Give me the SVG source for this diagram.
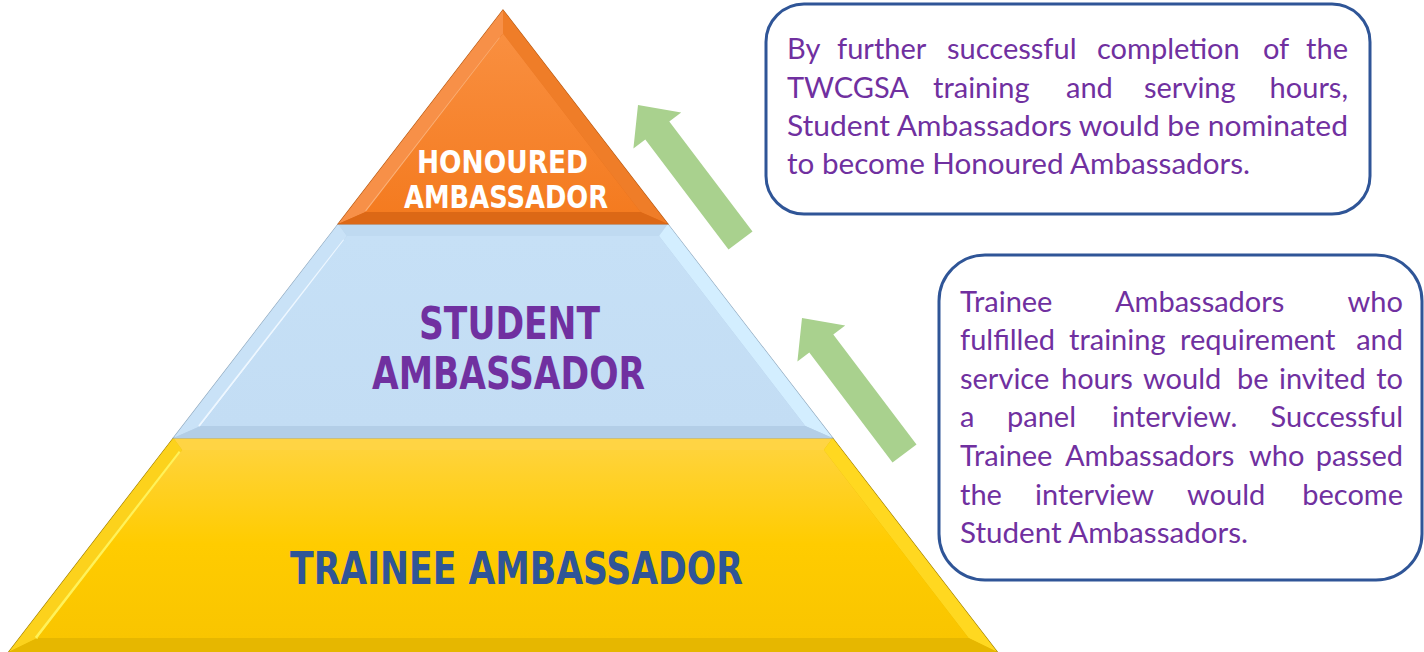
<svg xmlns="http://www.w3.org/2000/svg" width="1424" height="652" viewBox="0 0 1424 652">
<style>
.lbl{font-family:"DejaVu Sans Condensed","DejaVu Sans",sans-serif;font-weight:bold;}
.desc{font-family:Lato,"Open Sans",sans-serif;font-size:29px;fill:#7030A0;}
.box{fill:#FFFFFF;stroke:#2F5597;stroke-width:3;}
.arrow{fill:#A9D18E;}
.end{text-anchor:end;}
</style>
<defs>
<linearGradient id="gOr" x1="0" y1="0" x2="0" y2="1"><stop offset="0" stop-color="#F98F40"/><stop offset="1" stop-color="#F47B20"/></linearGradient>
<linearGradient id="gBl" x1="0" y1="0" x2="0" y2="1"><stop offset="0" stop-color="#C6E0F6"/><stop offset="1" stop-color="#C3DDF4"/></linearGradient>
<linearGradient id="gYe" x1="0" y1="0" x2="0" y2="1"><stop offset="0" stop-color="#FFD33A"/><stop offset="0.5" stop-color="#FFCC00"/><stop offset="1" stop-color="#F9C500"/></linearGradient>
</defs>

<g id="tier-trainee">
<polygon points="173.4,438 832.6,438 997.3,652 8.7,652" fill="#E8BB00" stroke="#9C7C00" stroke-width="1.2"/>
<polygon points="173.4,438 182.2,450 37.4,638 8.7,652" fill="#FCD21C"/>
<polygon points="173.4,438 832.6,438 823.8,450 182.2,450" fill="#FFD444"/>
<polygon points="832.6,438 997.3,652 968.6,638 823.8,450" fill="#FFD820"/>
<polygon points="8.7,652 37.4,638 968.6,638 997.3,652" fill="#E6B700"/>
<line x1="180" y1="452" x2="36" y2="638" stroke="#FFF25A" stroke-width="3"/>
<polygon points="182.2,450 823.8,450 968.6,638 37.4,638" fill="url(#gYe)"/>
<text class="lbl" x="290" y="584" font-size="45" fill="#2F5597" textLength="453" lengthAdjust="spacingAndGlyphs">TRAINEE AMBASSADOR</text>
</g>

<g id="tier-student">
<polygon points="338.2,224 667.8,224 832.6,438 173.4,438" fill="#B7D2EA" stroke="#8FA8BE" stroke-width="1.2"/>
<polygon points="338.2,224 347,236 200.7,426 173.4,438" fill="#C9E2F7"/>
<polygon points="338.2,224 667.8,224 659,236 347,236" fill="#BFDAF1"/>
<polygon points="667.8,224 832.6,438 805.3,426 659,236" fill="#D3EEFF"/>
<polygon points="173.4,438 200.7,426 805.3,426 832.6,438" fill="#B3CEE7"/>
<line x1="344" y1="240" x2="199" y2="426" stroke="#EEF7FF" stroke-width="2"/>
<polygon points="347,236 659,236 805.3,426 200.7,426" fill="url(#gBl)"/>
<text class="lbl" x="419" y="339" font-size="45" fill="#7030A0" textLength="181" lengthAdjust="spacingAndGlyphs">STUDENT</text>
<text class="lbl" x="372" y="389" font-size="45" fill="#7030A0" textLength="273" lengthAdjust="spacingAndGlyphs">AMBASSADOR</text>
</g>

<g id="tier-honoured">
<polygon points="503,10 667.8,224 338.2,224" fill="#E06C18" stroke="#B85B14" stroke-width="1.2"/>
<polygon points="503,10 503,33.4 365.5,212 338.2,224" fill="#F79048"/>
<polygon points="503,10 667.8,224 640.5,212 503,33.4" fill="#EF7D28"/>
<polygon points="338.2,224 365.5,212 640.5,212 667.8,224" fill="#DC6816"/>
<line x1="500" y1="38" x2="366" y2="211" stroke="#FBB27A" stroke-width="2"/>
<polygon points="503,33.4 640.5,212 365.5,212" fill="url(#gOr)"/>
<text class="lbl" x="417" y="173" font-size="32" fill="#FFFFFF" textLength="171" lengthAdjust="spacingAndGlyphs">HONOURED</text>
<text class="lbl" x="404" y="208" font-size="32" fill="#FFFFFF" textLength="204" lengthAdjust="spacingAndGlyphs">AMBASSADOR</text>
</g>

<g id="connectors">
<polygon class="arrow" points="638,105 681.2,112.4 669.3,121.5 752.5,231.5 728.5,249.5 645.3,139.6 633.4,148.6"/>
<polygon class="arrow" transform="translate(164,213)" points="638,105 681.2,112.4 669.3,121.5 752.5,231.5 728.5,249.5 645.3,139.6 633.4,148.6"/>
</g>

<g id="note-honoured">
<rect class="box" x="766" y="4" width="604" height="210" rx="38" ry="38"/>
<text class="desc" y="59"><tspan x="787">By</tspan><tspan x="837">further</tspan><tspan x="947">successful</tspan><tspan x="1097">completion</tspan><tspan x="1263">of</tspan></text>
<text class="desc end" x="1348" y="59">the</text>
<text class="desc" y="98"><tspan x="787">TWCGSA</tspan><tspan x="933">training</tspan><tspan x="1066">and</tspan><tspan x="1144">serving</tspan></text>
<text class="desc end" x="1348" y="98">hours,</text>
<text class="desc" x="787" y="136" textLength="561" lengthAdjust="spacingAndGlyphs">Student Ambassadors would be nominated</text>
<text class="desc" x="787" y="174" textLength="463" lengthAdjust="spacingAndGlyphs">to become Honoured Ambassadors.</text>
</g>

<g id="note-student">
<rect class="box" x="939" y="255" width="483" height="325" rx="46" ry="46"/>
<text class="desc" y="312"><tspan x="960">Trainee</tspan><tspan x="1115">Ambassadors</tspan></text>
<text class="desc end" x="1403" y="312">who</text>
<text class="desc" y="350"><tspan x="960">fulfilled</tspan><tspan x="1069">training</tspan><tspan x="1180">requirement</tspan></text>
<text class="desc end" x="1403" y="350">and</text>
<text class="desc" y="389"><tspan x="960">service</tspan><tspan x="1061">hours</tspan><tspan x="1143">would</tspan><tspan x="1237">be</tspan><tspan x="1279">invited</tspan></text>
<text class="desc end" x="1403" y="389">to</text>
<text class="desc" y="427"><tspan x="960">a</tspan><tspan x="1007">panel</tspan><tspan x="1112">interview.</tspan></text>
<text class="desc end" x="1403" y="427">Successful</text>
<text class="desc" y="466"><tspan x="960">Trainee</tspan><tspan x="1065">Ambassadors</tspan><tspan x="1249">who</tspan></text>
<text class="desc end" x="1403" y="466">passed</text>
<text class="desc" y="505"><tspan x="960">the</tspan><tspan x="1035">interview</tspan><tspan x="1187">would</tspan></text>
<text class="desc end" x="1403" y="505">become</text>
<text class="desc" x="960" y="543" textLength="288" lengthAdjust="spacingAndGlyphs">Student Ambassadors.</text>
</g>
</svg>
